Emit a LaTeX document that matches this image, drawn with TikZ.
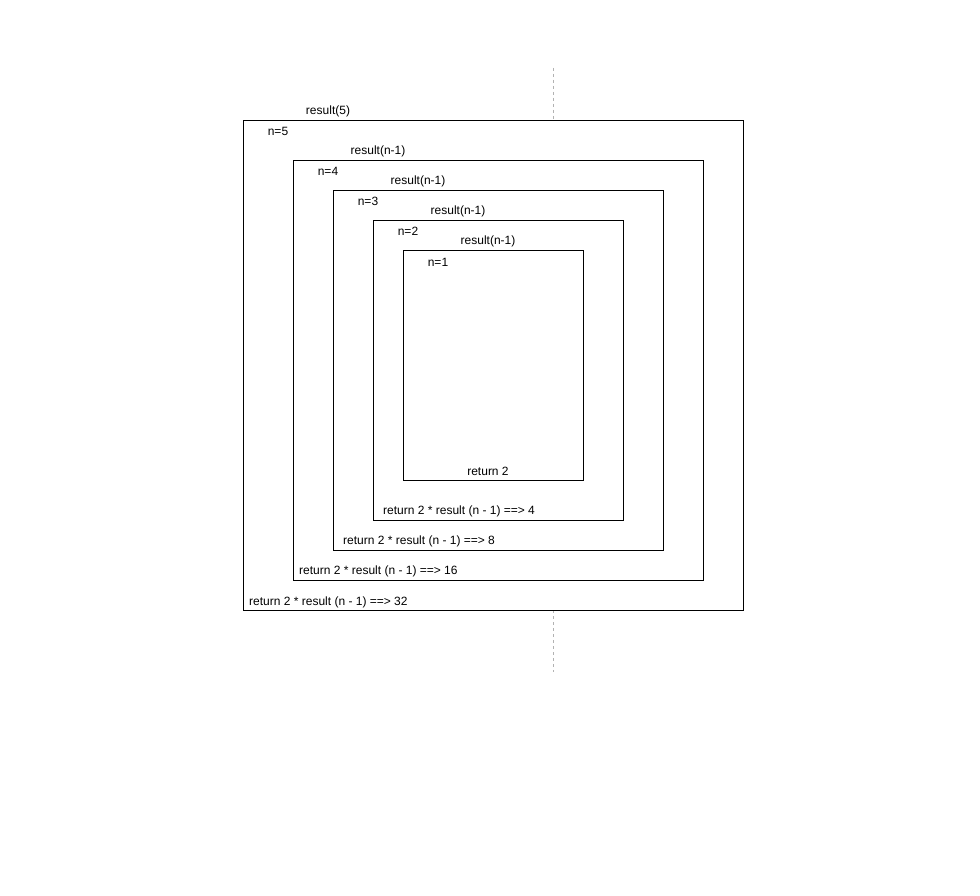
\documentclass[tikz,border=0pt]{standalone}
\usepackage{fontspec}
\setmainfont{Liberation Sans}
\begin{document}
\begin{tikzpicture}[x=1pt,y=-1pt,
  frame/.style={draw=black, line width=0.9pt},
  lbl/.style={inner sep=0pt, yshift=-1.5pt, font=\fontsize{12}{14}\selectfont, text=black},
  guide/.style={draw=black!30, dashed, line width=0.6pt}]
\useasboundingbox[fill=white] (0,0) rectangle (980,896);
% guide line
\coordinate (g1) at (553,68);
\coordinate (g2) at (553,120);
\coordinate (g3) at (553,610);
\coordinate (g4) at (553,672);
\draw[guide] (g1) -- (g2);
\draw[guide] (g3) -- (g4);
% frames
\draw[frame] (243,120) rectangle (743,610);
\draw[frame] (293,160) rectangle (703,580);
\draw[frame] (333,190) rectangle (663,550);
\draw[frame] (373,220) rectangle (623,520);
\draw[frame] (403,250) rectangle (583,480);
% labels
\node[lbl] (c5) at (328,110) {result(5)};
\node[lbl] (n5) at (278,130) {n=5};
\node[lbl] (c4) at (378,150) {result(n-1)};
\node[lbl] (n4) at (328,170) {n=4};
\node[lbl] (c3) at (418,180) {result(n-1)};
\node[lbl] (n3) at (368,200) {n=3};
\node[lbl] (c2) at (458,210) {result(n-1)};
\node[lbl] (n2) at (408,230) {n=2};
\node[lbl] (c1) at (488,240) {result(n-1)};
\node[lbl] (n1) at (438,261) {n=1};
\node[lbl] (r1) at (488,470) {return 2};
\node[lbl, anchor=west] (r2) at (383,510) {return 2 * result (n - 1) ==> 4};
\node[lbl, anchor=west] (r3) at (343,540) {return 2 * result (n - 1) ==> 8};
\node[lbl, anchor=west] (r4) at (299,570) {return 2 * result (n - 1) ==> 16};
\node[lbl, anchor=west] (r5) at (249,601) {return 2 * result (n - 1) ==> 32};
\end{tikzpicture}
\end{document}
